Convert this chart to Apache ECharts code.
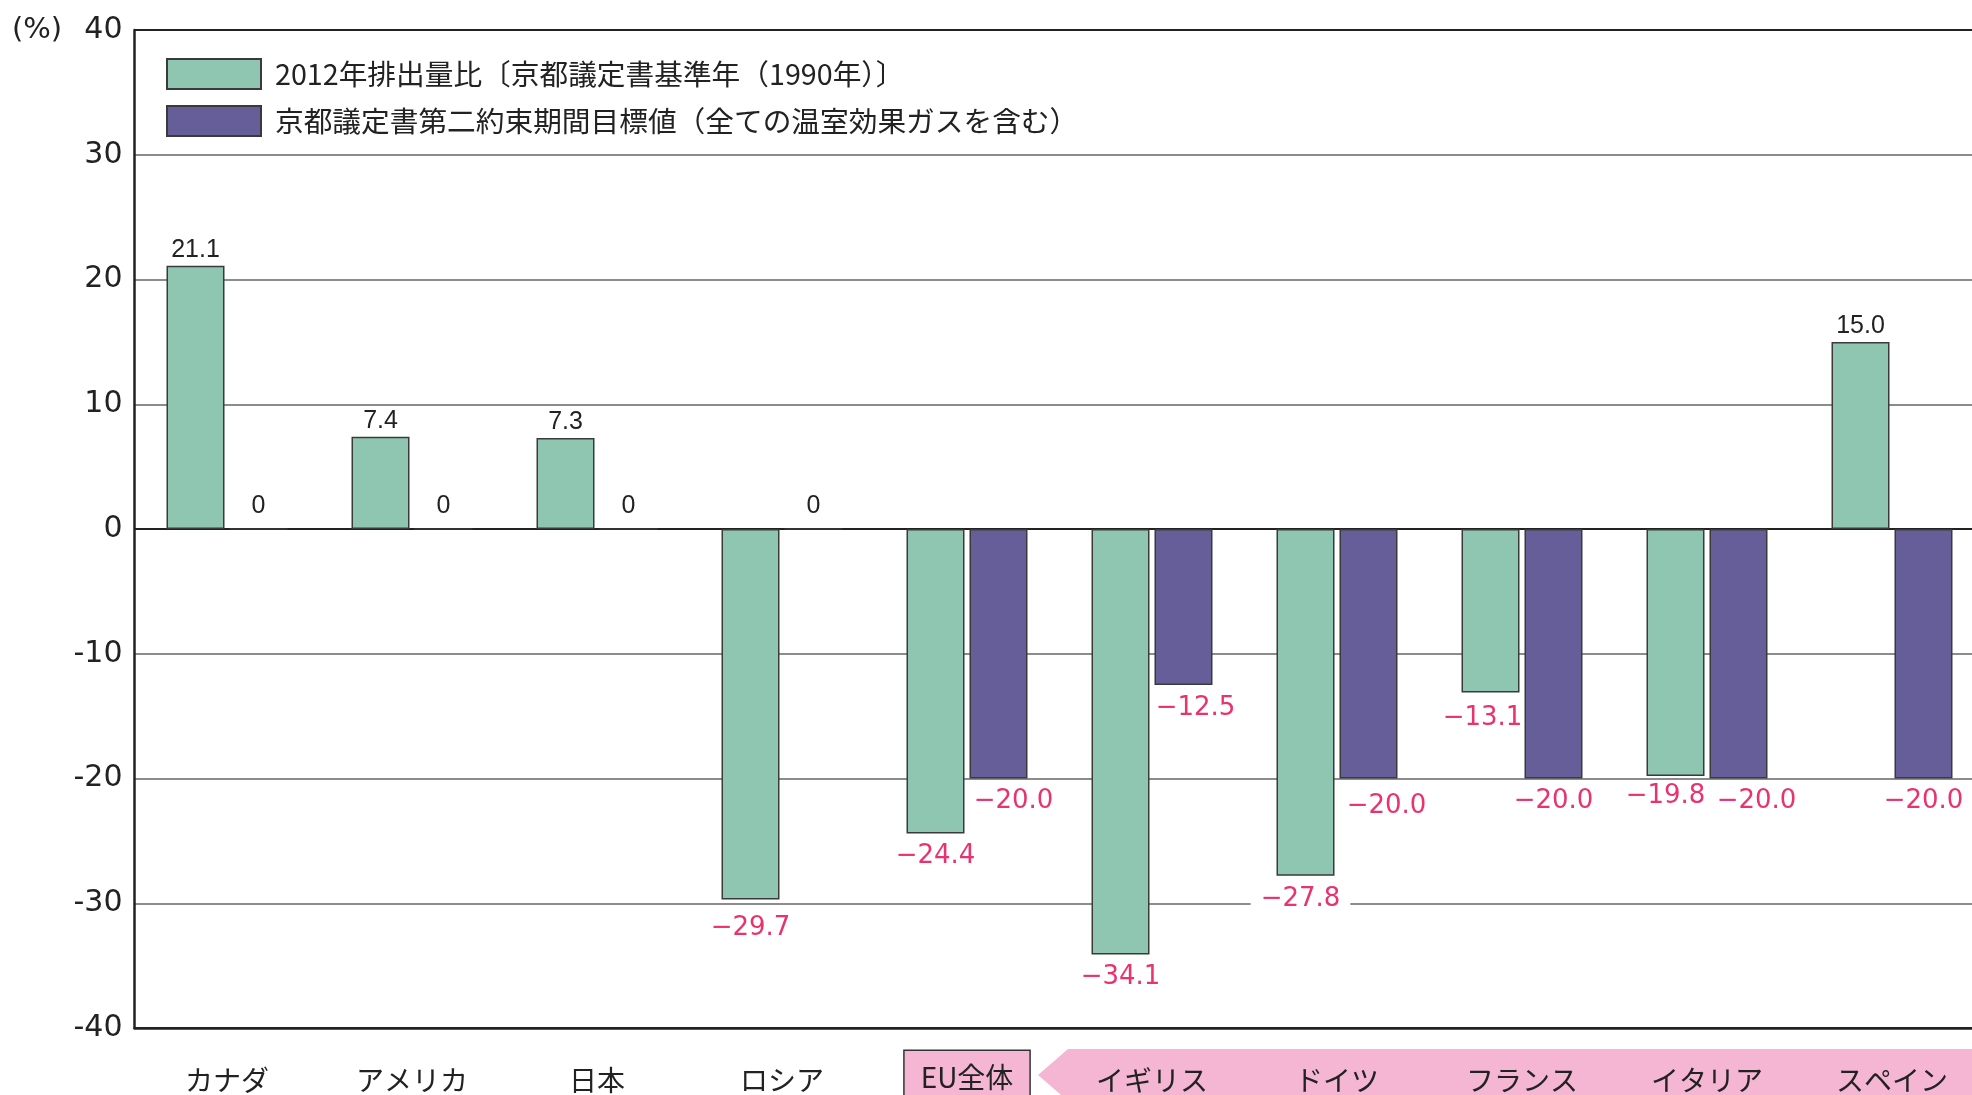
<!DOCTYPE html>
<html><head><meta charset="utf-8">
<script src="https://cdn.jsdelivr.net/npm/echarts@6/dist/echarts.min.js"></script>
<style>html,body{margin:0;padding:0;background:#fff}#c{width:1972px;height:1095px}</style>
</head><body><div id="c"></div>
<script>
// ---- data ----
const categories = ['カナダ','アメリカ','日本','ロシア','EU全体','イギリス','ドイツ','フランス','イタリア','スペイン'];
const emissions2012 = [21.1, 7.4, 7.3, -29.7, -24.4, -34.1, -27.8, -13.1, -19.8, 15.0];
const kyotoTarget = [0, 0, 0, 0, -20.0, -12.5, -20.0, -20.0, -20.0, -20.0];
const seriesNames = ['2012年排出量比〔京都議定書基準年（1990年）〕','京都議定書第二約束期間目標値（全ての温室効果ガスを含む）'];
const yMin = -40, yMax = 40, yStep = 10;

// ---- styling / layout tweaks ----
const GREEN = '#8fc6b2', PURPLE = '#665e98', PINK_TEXT = '#e8336f', BAND = '#f4b6d3';
const greenShift  = [[0,0],[0,0],[0,0],[0,6],[0,0],[0,0],[-5,0],[-8,3],[-10,-3],[0,0]];
const purpleShift = [[0,0],[0,0],[0,0],[0,0],[15,0],[12,0],[18,5],[0,0],[18,0],[0,0]];
const greenMask = [6];
const NUMFONT = 'Liberation Sans, Arial, sans-serif';
const WIDEFONT = '"DejaVu Sans", sans-serif';
const JPFONT = '"Noto Sans CJK JP", sans-serif';

function fmt(v){ if(v===0) return '0'; if(v<0) return '\u2212'+Math.abs(v).toFixed(1); return v.toFixed(1); }
function buildData(vals, shifts, mask){
  return vals.map((v,i)=>{
    const neg = v < 0;
    const lab = {
      show: true,
      position: neg ? 'bottom' : 'top',
      distance: neg ? 10 : (v === 0 ? 10 : 3),
      formatter: fmt(v),
      color: neg ? PINK_TEXT : '#222',
      fontSize: neg ? 26 : 25,
      fontFamily: neg ? WIDEFONT : NUMFONT,
      offset: shifts[i]
    };
    if (mask && mask.indexOf(i) >= 0) { lab.backgroundColor = '#fff'; lab.padding = [0, 10]; }
    return {value: v, label: lab};
  });
}

const splitColors = [];
for (let t = yMin; t <= yMax; t += yStep) splitColors.push((t === 0 || t === yMax || t === yMin) ? '#222' : '#8c8c8c');

const chart = echarts.init(document.getElementById('c'), null, {renderer: 'canvas'});
chart.setOption({
  animation: false,
  backgroundColor: '#fff',
  grid: {left: 134.5, top: 30, width: 1850, height: 998, containLabel: false, outerBoundsMode: 'none'},
  legend: {
    orient: 'vertical', left: 166, top: 58, padding: 0,
    itemWidth: 94, itemHeight: 30, itemGap: 15, icon: 'rect',
    textStyle: {fontSize: 28.7, color: '#222', fontFamily: JPFONT, padding: [0,0,0,9]},
    data: seriesNames
  },
  xAxis: {
    type: 'category', data: categories,
    axisLine: {show: true, onZero: false, lineStyle: {color: '#222', width: 2.5}},
    axisTick: {show: false},
    splitLine: {show: false},
    axisLabel: {
      interval: 0, margin: 33,
      formatter: v => v === 'EU全体' ? '{eu|' + v + '}' : '{n|' + v + '}',
      rich: {
        n: {fontSize: 28, color: '#222', fontFamily: JPFONT, lineHeight: 34, padding: [5,0,0,0]},
        eu: {fontSize: 28, color: '#222', fontFamily: JPFONT, lineHeight: 34, padding: [12,16,14,16],
             backgroundColor: BAND, borderColor: '#333', borderWidth: 1.5}
      }
    }
  },
  yAxis: {
    type: 'value', min: yMin, max: yMax, interval: yStep,
    axisLine: {show: true, lineStyle: {color: '#222', width: 2.5}},
    axisTick: {show: false},
    axisLabel: {fontSize: 30, color: '#222', margin: 12, fontFamily: WIDEFONT},
    splitLine: {show: true, lineStyle: {color: splitColors, width: 2}}
  },
  series: [
    {type: 'bar', name: seriesNames[0], data: buildData(emissions2012, greenShift, greenMask),
     barWidth: 58, barGap: '8.6%',
     itemStyle: {color: GREEN, borderColor: '#3a3a3a', borderWidth: 1.5}},
    {type: 'bar', name: seriesNames[1], data: buildData(kyotoTarget, purpleShift, null),
     barWidth: 58, barGap: '8.6%',
     itemStyle: {color: PURPLE, borderColor: '#3a3a3a', borderWidth: 1.5}}
  ]
});

// decoration: pink arrow band behind EU member labels, located from the axes
const bx = (chart.convertToPixel({xAxisIndex: 0}, 'EU全体') + chart.convertToPixel({xAxisIndex: 0}, 'イギリス')) / 2;
const by = chart.convertToPixel({yAxisIndex: 0}, yMin);
chart.setOption({
  graphic: [
    {type: 'polygon', z: -1, silent: true,
     shape: {points: [[bx - 21.5, by + 47], [bx + 8.5, by + 21], [2000, by + 21], [2000, by + 80], [bx + 8.5, by + 73]]},
     style: {fill: BAND}},
    {type: 'text', left: 12, top: 16, silent: true,
     style: {text: '(%)', fontSize: 29, fill: '#222', fontFamily: WIDEFONT}}
  ]
});
</script>
</body></html>
